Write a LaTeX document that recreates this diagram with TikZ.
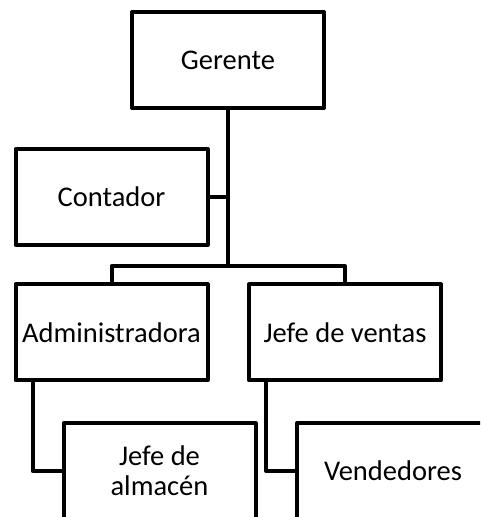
\documentclass[tikz,border=0pt]{standalone}
\usepackage{fontspec}
\setmainfont{Carlito}
\usepackage{tikz}
\tikzstyle{puesto} = [rectangle, draw, line width=4pt, line join=round, inner sep=0pt, minimum width=192pt, minimum height=96pt, align=center]

\begin{document}
\begin{tikzpicture}[x=1pt,y=1pt]
			\tikzset{every node/.style={puesto, font=\fontsize{28.5}{30}\selectfont}}
\useasboundingbox (0,0) rectangle (480,517);
\clip (0,0) rectangle (480,517);
\node (ger) at (228,457) {Gerente};
\node (cont) at (111.5,320) {Contador};
\node (adm) at (111.5,184.5) {Administradora};
\node (jv) at (345,184.5) {Jefe de ventas};
\node (alm) at (159.5,46) {Jefe de\\almac\'en};
\node (vend) at (393,46) {Vendedores};
\coordinate (bar) at (228,251);

\draw[line width=4pt] (ger.south) -- (bar);
\draw[line width=4pt] (cont.east) -- (cont.east -| bar);
\draw[line width=4pt, line join=round] (adm.north) |- (bar) -| (jv.north);
\foreach \from/\to in {adm/alm,jv/vend}
{
	\draw[line width=4pt, line join=round] (\from.south west) ++(19,0) |- (\to.west);
}

		\end{tikzpicture}
\end{document}
